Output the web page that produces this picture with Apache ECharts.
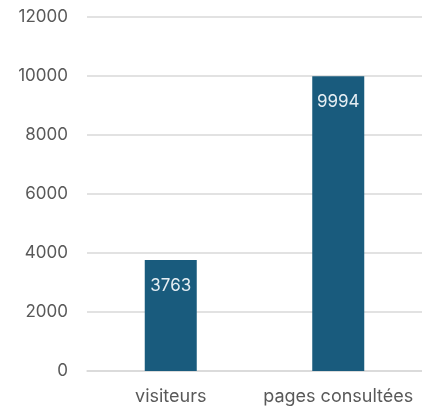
<!DOCTYPE html>
<html>
<head>
<meta charset="utf-8">
<script src="https://cdn.jsdelivr.net/npm/echarts@6/dist/echarts.min.js"></script>
<style>html,body{margin:0;padding:0;background:#fff;}#c{width:422px;height:410px;}</style>
</head>
<body>
<div id="c"></div>
<script>
var categories = ['visiteurs', 'pages consultées'];
var values = [3763, 9994];
var yTicks = { min: 0, max: 12000, interval: 2000 };

var chart = echarts.init(document.getElementById('c'), null, { renderer: 'canvas' });
chart.setOption({
  animation: false,
  textStyle: { fontFamily: 'Inter' },
  grid: { left: 87, right: 0, top: 17, bottom: 39 },
  xAxis: {
    type: 'category',
    data: categories,
    axisLine: { show: true, lineStyle: { color: '#d9d9d9', width: 1.5 } },
    axisTick: { show: false },
    axisLabel: { color: '#595959', fontSize: 18, margin: 17, interval: 0, hideOverlap: false, fontFamily: 'Inter' }
  },
  yAxis: {
    type: 'value',
    min: yTicks.min, max: yTicks.max, interval: yTicks.interval,
    axisLine: { show: false },
    axisTick: { show: false },
    splitLine: { lineStyle: { color: '#d9d9d9', width: 1.5 } },
    axisLabel: {
      color: '#595959', fontSize: 17, margin: 19, fontFamily: 'Inter',
      formatter: function (v) { return String(v); }
    }
  },
  series: [{
    type: 'bar',
    data: values,
    barWidth: 52,
    itemStyle: { color: '#195b7d' },
    label: {
      show: true,
      position: 'insideTop',
      distance: 17,
      color: '#e6eef3',
      fontSize: 17,
      fontFamily: 'Inter'
    }
  }]
});
</script>
</body>
</html>
